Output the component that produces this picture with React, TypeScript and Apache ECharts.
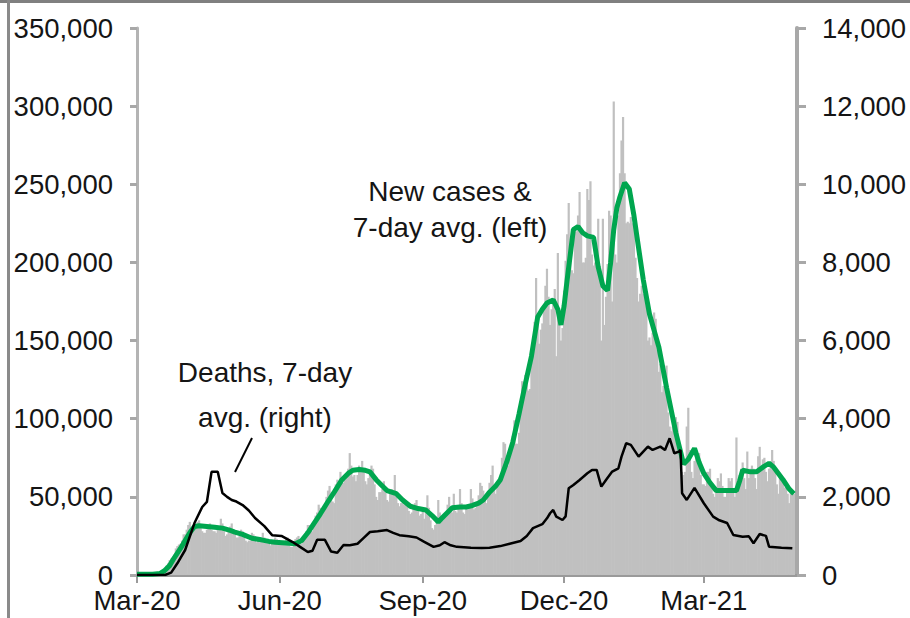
import React, { useEffect, useRef } from "react";
import * as echarts from "echarts";

// ---- Data (cases in thousands, deaths in units) ----
// Daily new cases, one value per day starting 1 Mar 2020
const casesMar20 = [0, 0, 0, 0, 0, 0.1, 0.1, 0.2, 0.2, 0.3, 0.4, 0.5, 0.6, 0.8, 1, 1.5, 2, 3, 4.5, 6, 7.5, 9.5, 10.5, 11, 13, 17, 18.5, 19.5, 20, 22, 26];
const casesApr20 = [26, 29, 32, 34, 27, 29, 31, 32, 34, 35, 30, 28, 27, 27, 29, 31, 33, 29, 28, 28, 27, 29, 31, 36, 33, 28, 25, 26, 28, 31];
const casesMay20 = [33, 29, 26, 24, 24, 25, 29, 28, 26, 22, 21, 22, 22, 27, 26, 25, 21, 22, 21, 22, 27, 24, 23, 21, 20, 19, 20, 22, 24, 23, 21];
const casesJun20 = [21, 20, 20, 21, 24, 24, 19, 18, 18, 21, 23, 24, 25, 21, 20, 23, 25, 28, 32, 32, 28, 28, 33, 38, 40, 45, 43, 41, 40, 44];
const casesJul20 = [50, 54, 57, 50, 47, 46, 58, 61, 60, 66, 61, 59, 61, 62, 68, 78, 70, 63, 64, 60, 64, 70, 69, 73, 66, 60, 58, 62, 66, 70, 68];
const casesAug20 = [58, 50, 48, 53, 53, 55, 60, 53, 48, 47, 52, 55, 53, 64, 52, 46, 44, 46, 46, 45, 47, 44, 41, 39, 40, 44, 46, 48, 43, 38, 39];
const casesSep20 = [42, 36, 43, 51, 43, 35, 30, 29, 32, 35, 48, 40, 36, 35, 39, 39, 45, 50, 42, 40, 52, 41, 40, 44, 55, 46, 40, 39, 43, 42];
const casesOct20 = [45, 55, 49, 42, 43, 46, 51, 59, 57, 54, 48, 46, 52, 59, 64, 70, 58, 52, 58, 60, 63, 75, 85, 84, 70, 70, 74, 79, 89, 99, 84];
const casesNov20 = [84, 91, 104, 124, 121, 128, 126, 118, 119, 134, 144, 162, 190, 163, 148, 157, 161, 170, 185, 196, 178, 160, 170, 174, 183, 140, 206, 160, 150, 158];
const casesDec20 = [182, 201, 218, 238, 212, 195, 193, 220, 220, 230, 245, 220, 200, 200, 203, 247, 240, 252, 205, 198, 200, 197, 228, 196, 150, 228, 160, 178, 199, 233, 230];
const casesJan21 = [175, 303, 205, 200, 230, 257, 278, 293, 257, 225, 226, 225, 229, 225, 232, 203, 190, 175, 180, 185, 180, 178, 172, 150, 152, 147, 155, 168, 164, 144, 130];
const casesFeb21 = [135, 117, 121, 124, 134, 104, 95, 92, 95, 96, 101, 98, 86, 70, 66, 64, 66, 95, 107, 80, 66, 62, 73, 75, 77, 78, 64, 58];
const casesMar21 = [58, 57, 66, 66, 68, 59, 52, 50, 56, 62, 60, 65, 57, 50, 50, 53, 62, 60, 62, 55, 50, 88, 58, 64, 68, 72, 62, 55, 79, 62, 68];
const casesApr21 = [70, 68, 62, 55, 76, 82, 70, 74, 75, 66, 60, 68, 72, 80, 73, 68, 58, 52, 65, 62, 60, 56, 58, 52, 46, 55, 54, 52];

// 7-day average of new cases: [day index, thousands]
const casesAvg7: [number, number][] = [
  [0, 0.5], [10, 0.5], [15, 1], [18, 3], [21, 6], [24, 11], [28, 17], [31, 22], [34, 27], [37, 31], [40, 31.5],
  [45, 31], [50, 30.5], [55, 30], [60, 28.5], [63, 27.5], [68, 26], [74, 23.5], [80, 22.5], [85, 21.5], [89, 21],
  [96, 20.5], [102, 20], [106, 22], [110, 27], [114, 33], [118, 39], [123, 47], [127, 53], [132, 61], [136, 65],
  [139, 67], [143, 67.5], [147, 67], [150, 66], [154, 61], [158, 57], [161, 54], [167, 52], [171, 48], [176, 44],
  [181, 42.5], [186, 41.6], [190, 38], [194, 34], [198, 38], [203, 43], [208, 43.5], [212, 43.5], [216, 44.5],
  [220, 46], [223, 48], [227, 53], [231, 57], [234, 61], [238, 72], [242, 85], [246, 103], [250, 122], [254, 140],
  [258, 165], [261, 170], [264, 174], [268, 176], [271, 170], [273, 160], [275, 172], [277, 189], [279, 205],
  [281, 221], [284, 223], [287, 219], [290, 217], [294, 216], [297, 197], [300, 185], [303, 182], [305, 200],
  [307, 221], [309, 235], [311, 242], [314, 251], [317, 247], [320, 230], [322, 216], [326, 189], [330, 167],
  [336, 146], [341, 120], [347, 91], [352, 71], [355, 74], [359, 81], [362, 72], [365, 65], [369, 59], [373, 54],
  [380, 54], [386, 54], [388, 60], [390, 67], [395, 66], [399, 66], [403, 69], [407, 71.5], [410, 69], [416, 61],
  [420, 55], [423, 52],
];

// 7-day average of deaths (right axis): [day index, deaths]
const deathsAvg7: [number, number][] = [
  [0, 0], [18, 0], [22, 60], [26, 300], [31, 640], [37, 1330], [42, 1740], [45, 1870], [48, 2640], [52, 2640],
  [55, 2100], [58, 2000], [61, 1920], [64, 1880], [68, 1790], [72, 1650], [76, 1460], [82, 1250], [87, 1020],
  [93, 1000], [100, 850], [105, 720], [110, 590], [113, 620], [116, 900], [121, 900], [125, 600], [129, 570],
  [133, 770], [137, 760], [142, 800], [146, 950], [150, 1100], [155, 1120], [161, 1150], [165, 1080], [169, 1020],
  [175, 990], [180, 960], [185, 850], [191, 720], [195, 760], [198, 840], [202, 760], [206, 720], [215, 700],
  [222, 690], [227, 700], [234, 740], [240, 800], [247, 870], [251, 1000], [255, 1200], [261, 1300], [264, 1450],
  [266, 1580], [268, 1665], [270, 1494], [274, 1408], [276, 1500], [278, 2220], [281, 2305], [285, 2433],
  [290, 2603], [293, 2689], [296, 2689], [299, 2262], [302, 2433], [306, 2646], [310, 2731], [312, 3030],
  [315, 3372], [318, 3329], [323, 3030], [326, 3158], [329, 3286], [332, 3201], [337, 3286], [340, 3201],
  [343, 3500], [346, 3115], [349, 3158], [350, 3200], [351, 2092], [354, 1921], [359, 2230], [365, 1836],
  [371, 1494], [375, 1400], [380, 1330], [384, 1024], [390, 981], [394, 990], [397, 811], [401, 1050],
  [405, 1000], [407, 726], [415, 700], [422, 683],
];

const tickDates = ["2020-03-01", "2020-06-01", "2020-09-01", "2020-12-01", "2021-03-01"];
const tickLabels = ["Mar-20", "Jun-20", "Sep-20", "Dec-20", "Mar-21"];
const annotationCases = ["New cases &", "7-day avg. (left)"];
const annotationDeaths = ["Deaths, 7-day", "avg. (right)"];

const dayCount = 426; // 1 Mar 2020 .. 30 Apr 2021

export default function App() {
  const ref = useRef<HTMLDivElement>(null);

  useEffect(() => {
    if (!ref.current) return;
    const chart = echarts.init(ref.current, undefined, { renderer: "svg" });

    const categories: string[] = [];
    const start = Date.UTC(2020, 2, 1);
    for (let i = 0; i < dayCount; i++) {
      categories.push(new Date(start + i * 86400000).toISOString().slice(0, 10));
    }
    const dailyCases = [
      ...casesMar20, ...casesApr20, ...casesMay20, ...casesJun20, ...casesJul20, ...casesAug20,
      ...casesSep20, ...casesOct20, ...casesNov20, ...casesDec20, ...casesJan21, ...casesFeb21,
      ...casesMar21, ...casesApr21,
    ];

    const font = "'Liberation Sans', Arial, sans-serif";
    const textColor = "#151515";
    const isTick = (_i: number, v: string) => tickDates.indexOf(v) >= 0;

    chart.setOption({
      animation: false,
      backgroundColor: "#ffffff",
      grid: { left: 137, right: 113, top: 28, bottom: 43, containLabel: false },
      xAxis: {
        type: "category",
        data: categories,
        boundaryGap: false,
        axisLine: { show: true, lineStyle: { color: "#9a9a9a", width: 3 } },
        axisTick: { show: true, interval: isTick, length: 8, lineStyle: { color: "#9a9a9a", width: 2 } },
        axisLabel: {
          interval: isTick,
          formatter: (v: string) => tickLabels[tickDates.indexOf(v)],
          color: textColor,
          fontSize: 27.5,
          lineHeight: 20,
          fontFamily: font,
          margin: 15,
        },
        splitLine: { show: false },
      },
      yAxis: [
        {
          type: "value",
          min: 0,
          max: 350,
          interval: 50,
          position: "left",
          axisLine: { show: true, lineStyle: { color: "#b4b4b4", width: 3 } },
          axisTick: { show: true, length: 7, lineStyle: { color: "#a8a8a8", width: 3 } },
          axisLabel: {
            formatter: (v: number) => (v * 1000).toLocaleString("en-US"),
            color: textColor,
            fontSize: 27.5,
            lineHeight: 20,
            fontFamily: font,
            margin: 24,
          },
          splitLine: { show: false },
        },
        {
          type: "value",
          min: 0,
          max: 14000,
          interval: 2000,
          position: "right",
          axisLine: { show: true, lineStyle: { color: "#a8a8a8", width: 4 } },
          axisTick: { show: true, length: 9, lineStyle: { color: "#a8a8a8", width: 3 } },
          axisLabel: {
            formatter: (v: number) => v.toLocaleString("en-US"),
            color: textColor,
            fontSize: 27.5,
            lineHeight: 20,
            fontFamily: font,
            margin: 25,
          },
          splitLine: { show: false },
        },
      ],
      series: [
        {
          type: "bar",
          name: "New cases",
          data: dailyCases,
          yAxisIndex: 0,
          barWidth: 2.2,
          barGap: "0%",
          itemStyle: { color: "#c0c0c0" },
          silent: true,
          z: 1,
        },
        {
          type: "line",
          name: "7-day avg",
          data: casesAvg7,
          yAxisIndex: 0,
          symbol: "none",
          lineStyle: { color: "#00a64f", width: 5 },
          silent: true,
          z: 2,
        },
        {
          type: "line",
          name: "Deaths 7-day avg",
          data: deathsAvg7,
          yAxisIndex: 1,
          symbol: "none",
          lineStyle: { color: "#000000", width: 2.5 },
          silent: true,
          z: 3,
        },
      ],
      graphic: [
        { type: "rect", shape: { x: 0, y: 0, width: 910, height: 3 }, style: { fill: "#808080" }, silent: true },
        { type: "rect", shape: { x: 7, y: 0, width: 3, height: 618 }, style: { fill: "#8a8a8a" }, silent: true },
        {
          type: "text", x: 450, y: 191,
          style: { text: annotationCases[0], fill: textColor, fontSize: 28, fontFamily: font, textAlign: "center", textVerticalAlign: "middle" },
        },
        {
          type: "text", x: 450, y: 227,
          style: { text: annotationCases[1], fill: textColor, fontSize: 28, fontFamily: font, textAlign: "center", textVerticalAlign: "middle" },
        },
        {
          type: "text", x: 265, y: 372,
          style: { text: annotationDeaths[0], fill: textColor, fontSize: 28, fontFamily: font, textAlign: "center", textVerticalAlign: "middle" },
        },
        {
          type: "text", x: 265, y: 417,
          style: { text: annotationDeaths[1], fill: textColor, fontSize: 28, fontFamily: font, textAlign: "center", textVerticalAlign: "middle" },
        },
        {
          type: "line",
          shape: { x1: 252, y1: 438, x2: 235, y2: 472 },
          style: { stroke: "#000", lineWidth: 2 },
        },
      ],
    });

    return () => chart.dispose();
  }, []);

  return (
    <div
      ref={ref}
      style={{ position: "fixed", left: 0, top: 0, width: 910, height: 618, background: "#fff" }}
    />
  );
}
